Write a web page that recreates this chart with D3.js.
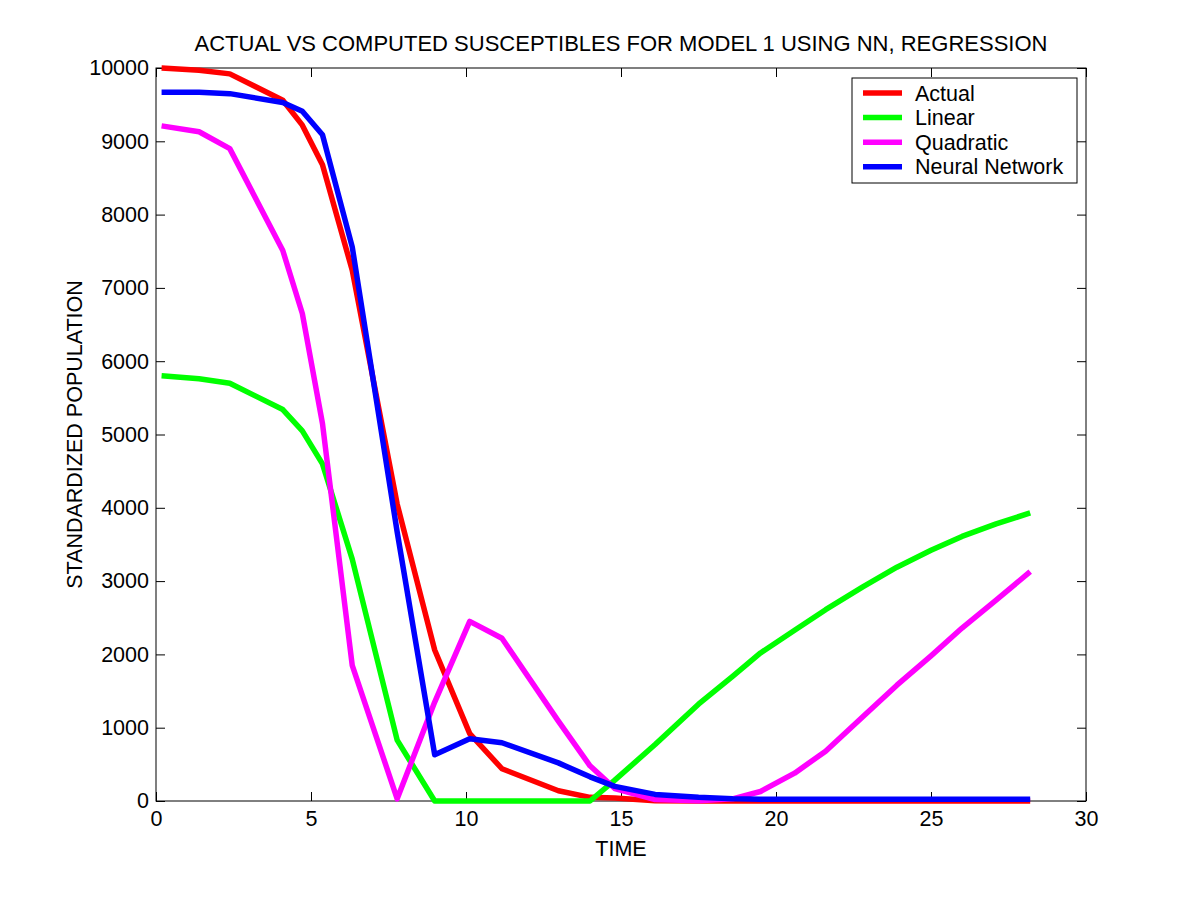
<!DOCTYPE html>
<html>
<head>
<meta charset="utf-8">
<script src="https://cdn.jsdelivr.net/npm/d3@7"></script>
<style>
  body { margin: 0; background: #fff; }
  text { font-family: "Liberation Sans", Arial, sans-serif; }
</style>
</head>
<body>
<script>
// time points shared by all series
var time = [0.18, 1.39, 2.38, 4.09, 4.72, 5.37, 6.33, 7.78, 8.99, 10.12, 11.16, 12.98, 14.0,
            14.8, 16.1, 17.5, 18.6, 19.5, 20.6, 21.6, 22.8, 23.9, 25.0, 26.0, 27.1, 28.2];

var actual    = [10000, 9970, 9920, 9560, 9220, 8680, 7240, 4050, 2060, 920, 440, 140, 50,
                 40, 5, 0, 0, 0, 0, 0, 0, 0, 0, 0, 0, 0];
var linear    = [5800, 5760, 5700, 5340, 5050, 4600, 3300, 830, 0, 0, 0, 0, 0,
                 285, 770, 1320, 1700, 2020, 2330, 2610, 2920, 3190, 3420, 3610, 3780, 3930];
var quadratic = [9210, 9130, 8900, 7510, 6650, 5150, 1850, 30, 1350, 2450, 2220, 1090, 480,
                 170, 20, 5, 30, 130, 380, 680, 1150, 1580, 1980, 2360, 2740, 3130];
var neural    = [9670, 9670, 9650, 9530, 9410, 9090, 7560, 3670, 630, 850, 795, 520, 330,
                 200, 90, 50, 30, 25, 25, 25, 25, 25, 25, 25, 25, 25];

var seriesNames = ["Actual", "Linear", "Quadratic", "Neural Network"];
var seriesColors = ["#ff0000", "#00ff00", "#ff00ff", "#0000ff"];
var seriesValues = [actual, linear, quadratic, neural];

var xTicks = [0, 5, 10, 15, 20, 25, 30];
var yTicks = [0, 1000, 2000, 3000, 4000, 5000, 6000, 7000, 8000, 9000, 10000];

var width = 1200,
    height = 900;
var margin = {left: 156, top: 68, right: 114, bottom: 99};
var w = width - margin.left - margin.right,
    h = height - margin.top - margin.bottom;
var fs = "21.5px";

var svg = d3.select("body").append("svg")
    .attr("width", width)
    .attr("height", height);

var x = d3.scaleLinear().domain([0, 30]).range([0, w]);
var y = d3.scaleLinear().domain([0, 10000]).range([h, 0]);

var g = svg.append("g")
    .attr("transform", "translate(" + margin.left + "," + margin.top + ")");

// axes, MATLAB style: ticks pointing inward on all four sides
function styleAxis(sel) {
  sel.select(".domain").remove();
  sel.selectAll("line").attr("stroke", "#000");
  sel.selectAll("text").attr("fill", "#000").style("font-size", fs);
}

g.append("g")
    .attr("transform", "translate(0," + h + ")")
    .call(d3.axisBottom(x).tickValues(xTicks).tickSize(-9).tickPadding(10))
    .call(styleAxis);
g.append("g")
    .call(d3.axisTop(x).tickValues(xTicks).tickSize(-9).tickFormat(""))
    .call(styleAxis);
g.append("g")
    .call(d3.axisLeft(y).tickValues(yTicks).tickSize(-9).tickPadding(7).tickFormat(d3.format("d")))
    .call(styleAxis);
g.append("g")
    .attr("transform", "translate(" + w + ",0)")
    .call(d3.axisRight(y).tickValues(yTicks).tickSize(-9).tickFormat(""))
    .call(styleAxis);

g.append("rect")
    .attr("width", w)
    .attr("height", h)
    .attr("fill", "none")
    .attr("stroke", "#000")
    .attr("stroke-width", 1);

var line = d3.line()
    .x(function(d, i) { return x(time[i]); })
    .y(function(d) { return y(d); });

g.selectAll(".series")
    .data(seriesValues)
  .enter().append("path")
    .attr("class", "series")
    .attr("fill", "none")
    .attr("stroke", function(d, i) { return seriesColors[i]; })
    .attr("stroke-width", 5.5)
    .attr("stroke-linejoin", "round")
    .attr("d", line);

// title and labels
svg.append("text")
    .attr("x", margin.left + w / 2)
    .attr("y", 51)
    .attr("text-anchor", "middle")
    .style("font-size", "22px")
    .text("ACTUAL VS COMPUTED SUSCEPTIBLES FOR MODEL 1 USING NN, REGRESSION");

svg.append("text")
    .attr("x", margin.left + w / 2)
    .attr("y", 856)
    .attr("text-anchor", "middle")
    .style("font-size", fs)
    .text("TIME");

svg.append("text")
    .attr("transform", "translate(82," + (margin.top + h / 2) + ") rotate(-90)")
    .attr("text-anchor", "middle")
    .style("font-size", fs)
    .text("STANDARDIZED POPULATION");

// legend
var legend = svg.append("g")
    .attr("transform", "translate(852,78)");
legend.append("rect")
    .attr("width", 225)
    .attr("height", 105)
    .attr("fill", "#fff")
    .attr("stroke", "#000");
var items = legend.selectAll(".item")
    .data(seriesNames)
  .enter().append("g")
    .attr("class", "item")
    .attr("transform", function(d, i) { return "translate(0," + (15 + i * 24.6) + ")"; });
items.append("line")
    .attr("x1", 11).attr("x2", 50)
    .attr("stroke", function(d, i) { return seriesColors[i]; })
    .attr("stroke-width", 5.5);
items.append("text")
    .attr("x", 63)
    .attr("dy", "0.35em")
    .style("font-size", fs)
    .text(function(d) { return d; });
</script>
</body>
</html>
